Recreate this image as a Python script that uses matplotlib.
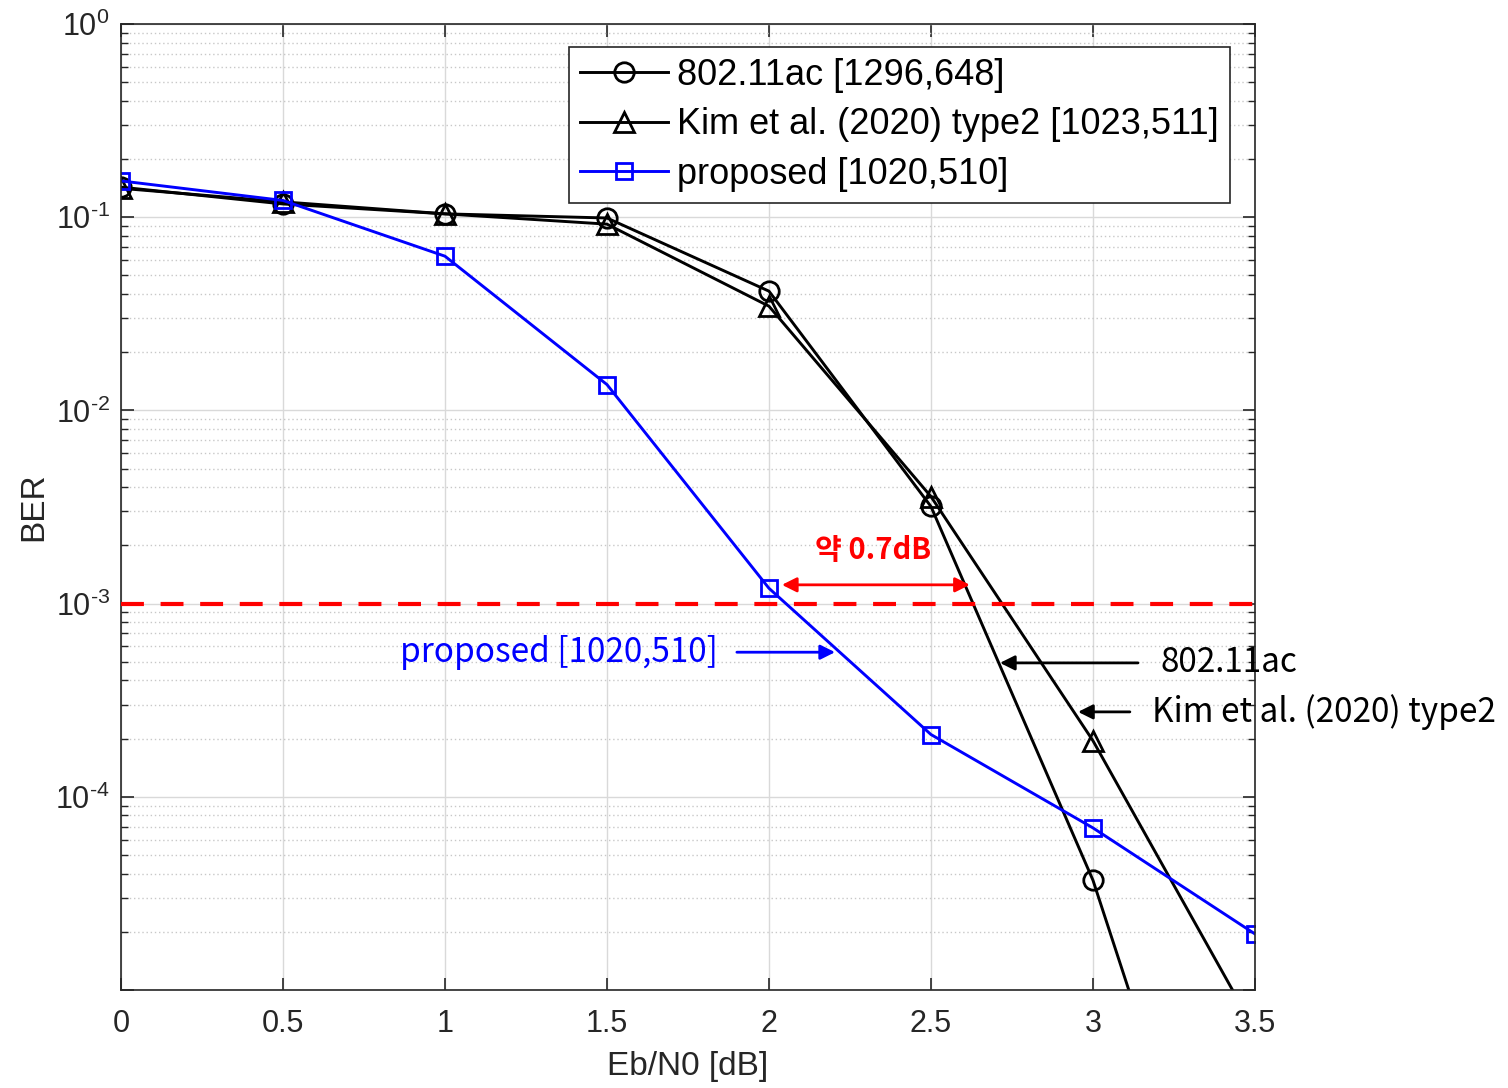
import numpy as np
import matplotlib
matplotlib.use("Agg")
import matplotlib.pyplot as plt
from matplotlib.ticker import LogLocator, NullFormatter

plt.rcParams['font.family'] = ['Liberation Sans', 'DejaVu Sans']
plt.rcParams['mathtext.fontset'] = 'custom'
plt.rcParams['mathtext.rm'] = 'Liberation Sans'

ebn0 = [0, 0.5, 1, 1.5, 2, 2.5, 3, 3.5]
ber_80211ac = [0.143, 0.117, 0.104, 0.099, 0.0414, 0.00318, 3.7e-5, 1.0e-7]
ber_kim = [0.141, 0.120, 0.104, 0.092, 0.0346, 0.00358, 1.95e-4, 6.2e-6]
ber_proposed = [0.154, 0.122, 0.0628, 0.0136, 0.0012, 2.1e-4, 6.9e-5, 1.95e-5]

xtick_labels = ['0', '0.5', '1', '1.5', '2', '2.5', '3', '3.5']
ytick_vals = [1e-5, 1e-4, 1e-3, 1e-2, 1e-1, 1e0]
ytick_labels = ['', r'10$^{\text{-4}}$', r'10$^{\text{-3}}$', r'10$^{\text{-2}}$',
                r'10$^{\text{-1}}$', r'10$^{\text{0}}$']

labels = ['802.11ac [1296,648]', 'Kim et al. (2020) type2 [1023,511]', 'proposed [1020,510]']

axc = '#262626'
fig = plt.figure(figsize=(15.08, 10.88), dpi=100)
ax = fig.add_axes([0.0802, 0.0901, 0.752, 0.8879])

ax.plot(ebn0, ber_80211ac, '-o', color='black', lw=2.1, ms=14, mfc='none', mew=2.0, label=labels[0])
ax.plot(ebn0, ber_kim, '-^', color='black', lw=2.1, ms=14, mfc='none', mew=2.0, label=labels[1])
ax.plot(ebn0, ber_proposed, '-s', color='blue', lw=2.1, ms=12, mfc='none', mew=2.0, label=labels[2])

ax.axhline(1e-3, color='red', ls=(0, (5.5, 4)), lw=3.0, zorder=3)

ax.set_yscale('log')
ax.set_xlim(0, 3.5)
ax.set_ylim(1e-5, 1)
ax.set_xticks(ebn0)
ax.set_xticklabels(xtick_labels)
ax.set_yticks(ytick_vals)
ax.set_yticklabels(ytick_labels)
ax.yaxis.set_minor_locator(LogLocator(base=10, subs=np.arange(2, 10), numticks=20))
ax.yaxis.set_minor_formatter(NullFormatter())

ax.grid(True, which='major', axis='both', color='#d9d9d9', lw=1.0, ls='-')
ax.grid(True, which='minor', axis='y', color='#c8c8c8', lw=1.0, ls=(0, (1, 2)))

for s in ax.spines.values():
    s.set_color(axc)
    s.set_linewidth(1.2)
ax.tick_params(which='both', direction='in', top=True, right=True, colors=axc,
               labelsize=22)
ax.tick_params(axis='x', pad=14)
ax.tick_params(axis='y', pad=8)
ax.tick_params(which='major', length=9, width=1.2)
ax.tick_params(which='minor', length=5, width=1.0)

ax.set_xlabel('Eb/N0 [dB]', fontsize=24, color=axc, labelpad=8)
ax.set_ylabel('BER', fontsize=24, color=axc, labelpad=4)

leg = ax.legend(loc='upper right', bbox_to_anchor=(0.978, 0.976), borderaxespad=0,
                fontsize=26, frameon=True, fancybox=False, framealpha=1,
                edgecolor=axc, handlelength=2.45, handletextpad=0.25,
                borderpad=0.3, labelspacing=0.4)
leg.get_frame().set_linewidth(1.2)

kfont = ['Noto Sans CJK KR', 'DejaVu Sans']
arrow_kw = dict(arrowstyle='-|>', lw=2.0, mutation_scale=22)

# red double arrow and label
ax.annotate('', xy=(2.040, 1.25e-3), xytext=(2.620, 1.25e-3),
            arrowprops=dict(arrowstyle='<|-|>', color='red', lw=2.0, mutation_scale=22,
                            shrinkA=0, shrinkB=0))
ax.text(2.321, 1.9e-3, '약 0.7dB', color='red', fontsize=21, fontweight='bold',
        family=kfont, ha='center', va='center')

# blue annotation
ax.text(1.843, 5.6e-4, 'proposed [1020,510]', color='blue', fontsize=24,
        family=kfont, ha='right', va='center')
ax.annotate('', xy=(2.204, 5.6e-4), xytext=(1.901, 5.6e-4),
            arrowprops=dict(color='blue', shrinkA=0, shrinkB=0, **arrow_kw))

# black annotations
ax.annotate('', xy=(2.713, 4.93e-4), xytext=(3.139, 4.93e-4),
            arrowprops=dict(color='black', shrinkA=0, shrinkB=0, **arrow_kw))
ax.text(3.207, 4.93e-4, '802.11ac', color='black', fontsize=24, family=kfont,
        ha='left', va='center', clip_on=False)
ax.annotate('', xy=(2.954, 2.75e-4), xytext=(3.114, 2.75e-4),
            arrowprops=dict(color='black', shrinkA=0, shrinkB=0, **arrow_kw))
ax.text(3.182, 2.75e-4, 'Kim et al. (2020) type2', color='black', fontsize=24,
        family=kfont, ha='left', va='center', clip_on=False)

fig.savefig('out.png', dpi=100)
